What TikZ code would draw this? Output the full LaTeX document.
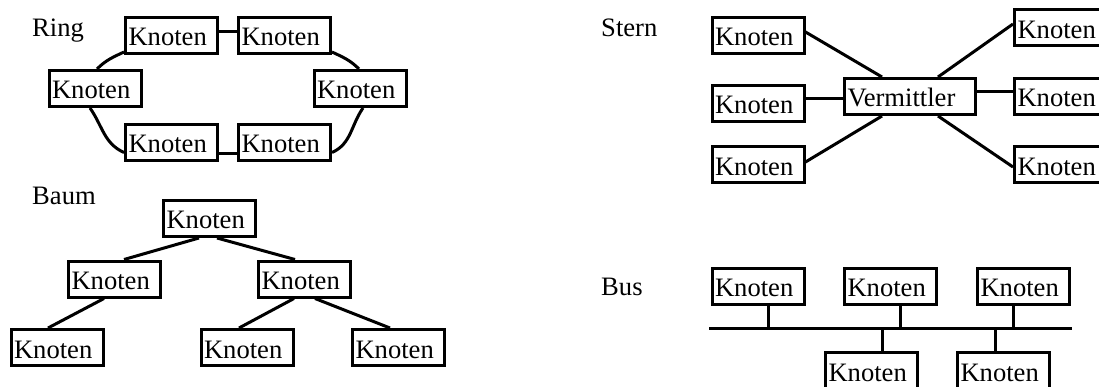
\documentclass[tikz,border=0pt]{standalone}
\usepackage{fontspec}
\setmainfont{Liberation Serif}
\begin{document}
\begin{tikzpicture}[x=1pt,y=1pt,
  knoten/.style={draw, line width=3pt, fill=white, inner xsep=3pt, inner ysep=0pt,
    minimum height=36pt, text width=86pt, align=left, text height=21pt, text depth=0pt,
    font=\fontsize{26.6}{30}\selectfont},
  vermittler/.style={knoten, text width=125pt},
  titel/.style={anchor=base west, inner sep=0pt, font=\fontsize{26.6}{30}\selectfont},
  conn/.style={line width=3pt}]
\useasboundingbox (0,0) rectangle (1099,-387);
\clip (0,0) rectangle (1099,-387);

% ---------- Ring ----------
\node[titel] (tring) at (32,-37) {Ring};
\node[knoten] (rtl) at (171.5,-35.5) {Knoten};
\node[knoten] (rtr) at (284.5,-35.5) {Knoten};
\node[knoten] (rl)  at (95,-88.5) {Knoten};
\node[knoten] (rr)  at (360,-88.5) {Knoten};
\node[knoten] (rbl) at (171.5,-142.5) {Knoten};
\node[knoten] (rbr) at (284.5,-142.5) {Knoten};
\draw[conn] ([yshift=3.5]rtl.east) -- ([yshift=3.5]rtr.west);
\draw[conn] ([yshift=-11.5]rbl.east) -- ([yshift=-11.5]rbr.west);
\draw[conn] ([yshift=3]rtl.south west) to[out=205,in=45] ([xshift=2]rl.north);
\draw[conn] ([xshift=-5]rl.south) to[out=-55,in=156] ([yshift=-10]rbl.west);
\draw[conn] ([yshift=3]rtr.south east) to[out=-25,in=135] ([xshift=-1]rr.north);
\draw[conn] ([xshift=3]rr.south) to[out=235,in=24] ([yshift=-10]rbr.east);

% ---------- Baum ----------
\node[titel] (tbaum) at (32,-205) {Baum};
\node[knoten] (broot) at (209.5,-218.5) {Knoten};
\node[knoten] (bml) at (114.5,-279) {Knoten};
\node[knoten] (bmr) at (304.5,-279) {Knoten};
\node[knoten] (bbl) at (57,-347.5) {Knoten};
\node[knoten] (bbm) at (247,-347.5) {Knoten};
\node[knoten] (bbr) at (398.5,-347.5) {Knoten};
\draw[conn] ([xshift=-10.5]broot.south) -- ([xshift=9.5]bml.north);
\draw[conn] ([xshift=7.5]broot.south) -- ([xshift=-9.5]bmr.north);
\draw[conn] ([xshift=-10.5]bml.south) -- ([xshift=-9]bbl.north);
\draw[conn] ([xshift=-10.5]bmr.south) -- ([xshift=-8]bbm.north);
\draw[conn] ([xshift=10.5]bmr.south) -- ([xshift=-8.5]bbr.north);

% ---------- Stern ----------
\node[titel] (tstern) at (601,-37) {Stern};
\node[knoten] (stl) at (758,-35.5) {Knoten};
\node[knoten] (sml) at (758,-103.5) {Knoten};
\node[knoten] (sbl) at (758,-165) {Knoten};
\node[vermittler] (v) at (910,-96.5) {Vermittler};
\node[knoten] (str) at (1060.5,-28) {Knoten};
\node[knoten] (smr) at (1060.5,-96.5) {Knoten};
\node[knoten] (sbr) at (1060.5,-165) {Knoten};
\draw[conn] ([yshift=3.5]stl.east) -- ([xshift=-28]v.north);
\draw[conn] ([yshift=4.5]sml.east) -- ([yshift=-2.5]v.west);
\draw[conn] ([yshift=3]sbl.east) -- ([xshift=-28]v.south);
\draw[conn] ([xshift=28]v.north) -- ([yshift=4]str.west);
\draw[conn] ([yshift=4.5]v.east) -- ([yshift=4.5]smr.west);
\draw[conn] ([xshift=28]v.south) -- ([yshift=-2]sbr.west);

% ---------- Bus ----------
\node[titel] (tbus) at (601,-295) {Bus};
\node[knoten] (b1) at (758,-286) {Knoten};
\node[knoten] (b2) at (890.5,-286) {Knoten};
\node[knoten] (b3) at (1023.5,-286) {Knoten};
\node[knoten] (b4) at (871.5,-370.5) {Knoten};
\node[knoten] (b5) at (1003.5,-370.5) {Knoten};
\coordinate (busL) at (709,-328);
\coordinate (busR) at (1072,-328);
\draw[conn] (busL) -- (busR);
\coordinate (t1) at (768,-328);
\coordinate (t2) at (900,-328);
\coordinate (t3) at (1013,-328);
\coordinate (t4) at (882,-328);
\coordinate (t5) at (995,-328);
\draw[conn] (t1) -- (t1 |- b1.south);
\draw[conn] (t2) -- (t2 |- b2.south);
\draw[conn] (t3) -- (t3 |- b3.south);
\draw[conn] (t4) -- (t4 |- b4.north);
\draw[conn] (t5) -- (t5 |- b5.north);
\end{tikzpicture}
\end{document}
